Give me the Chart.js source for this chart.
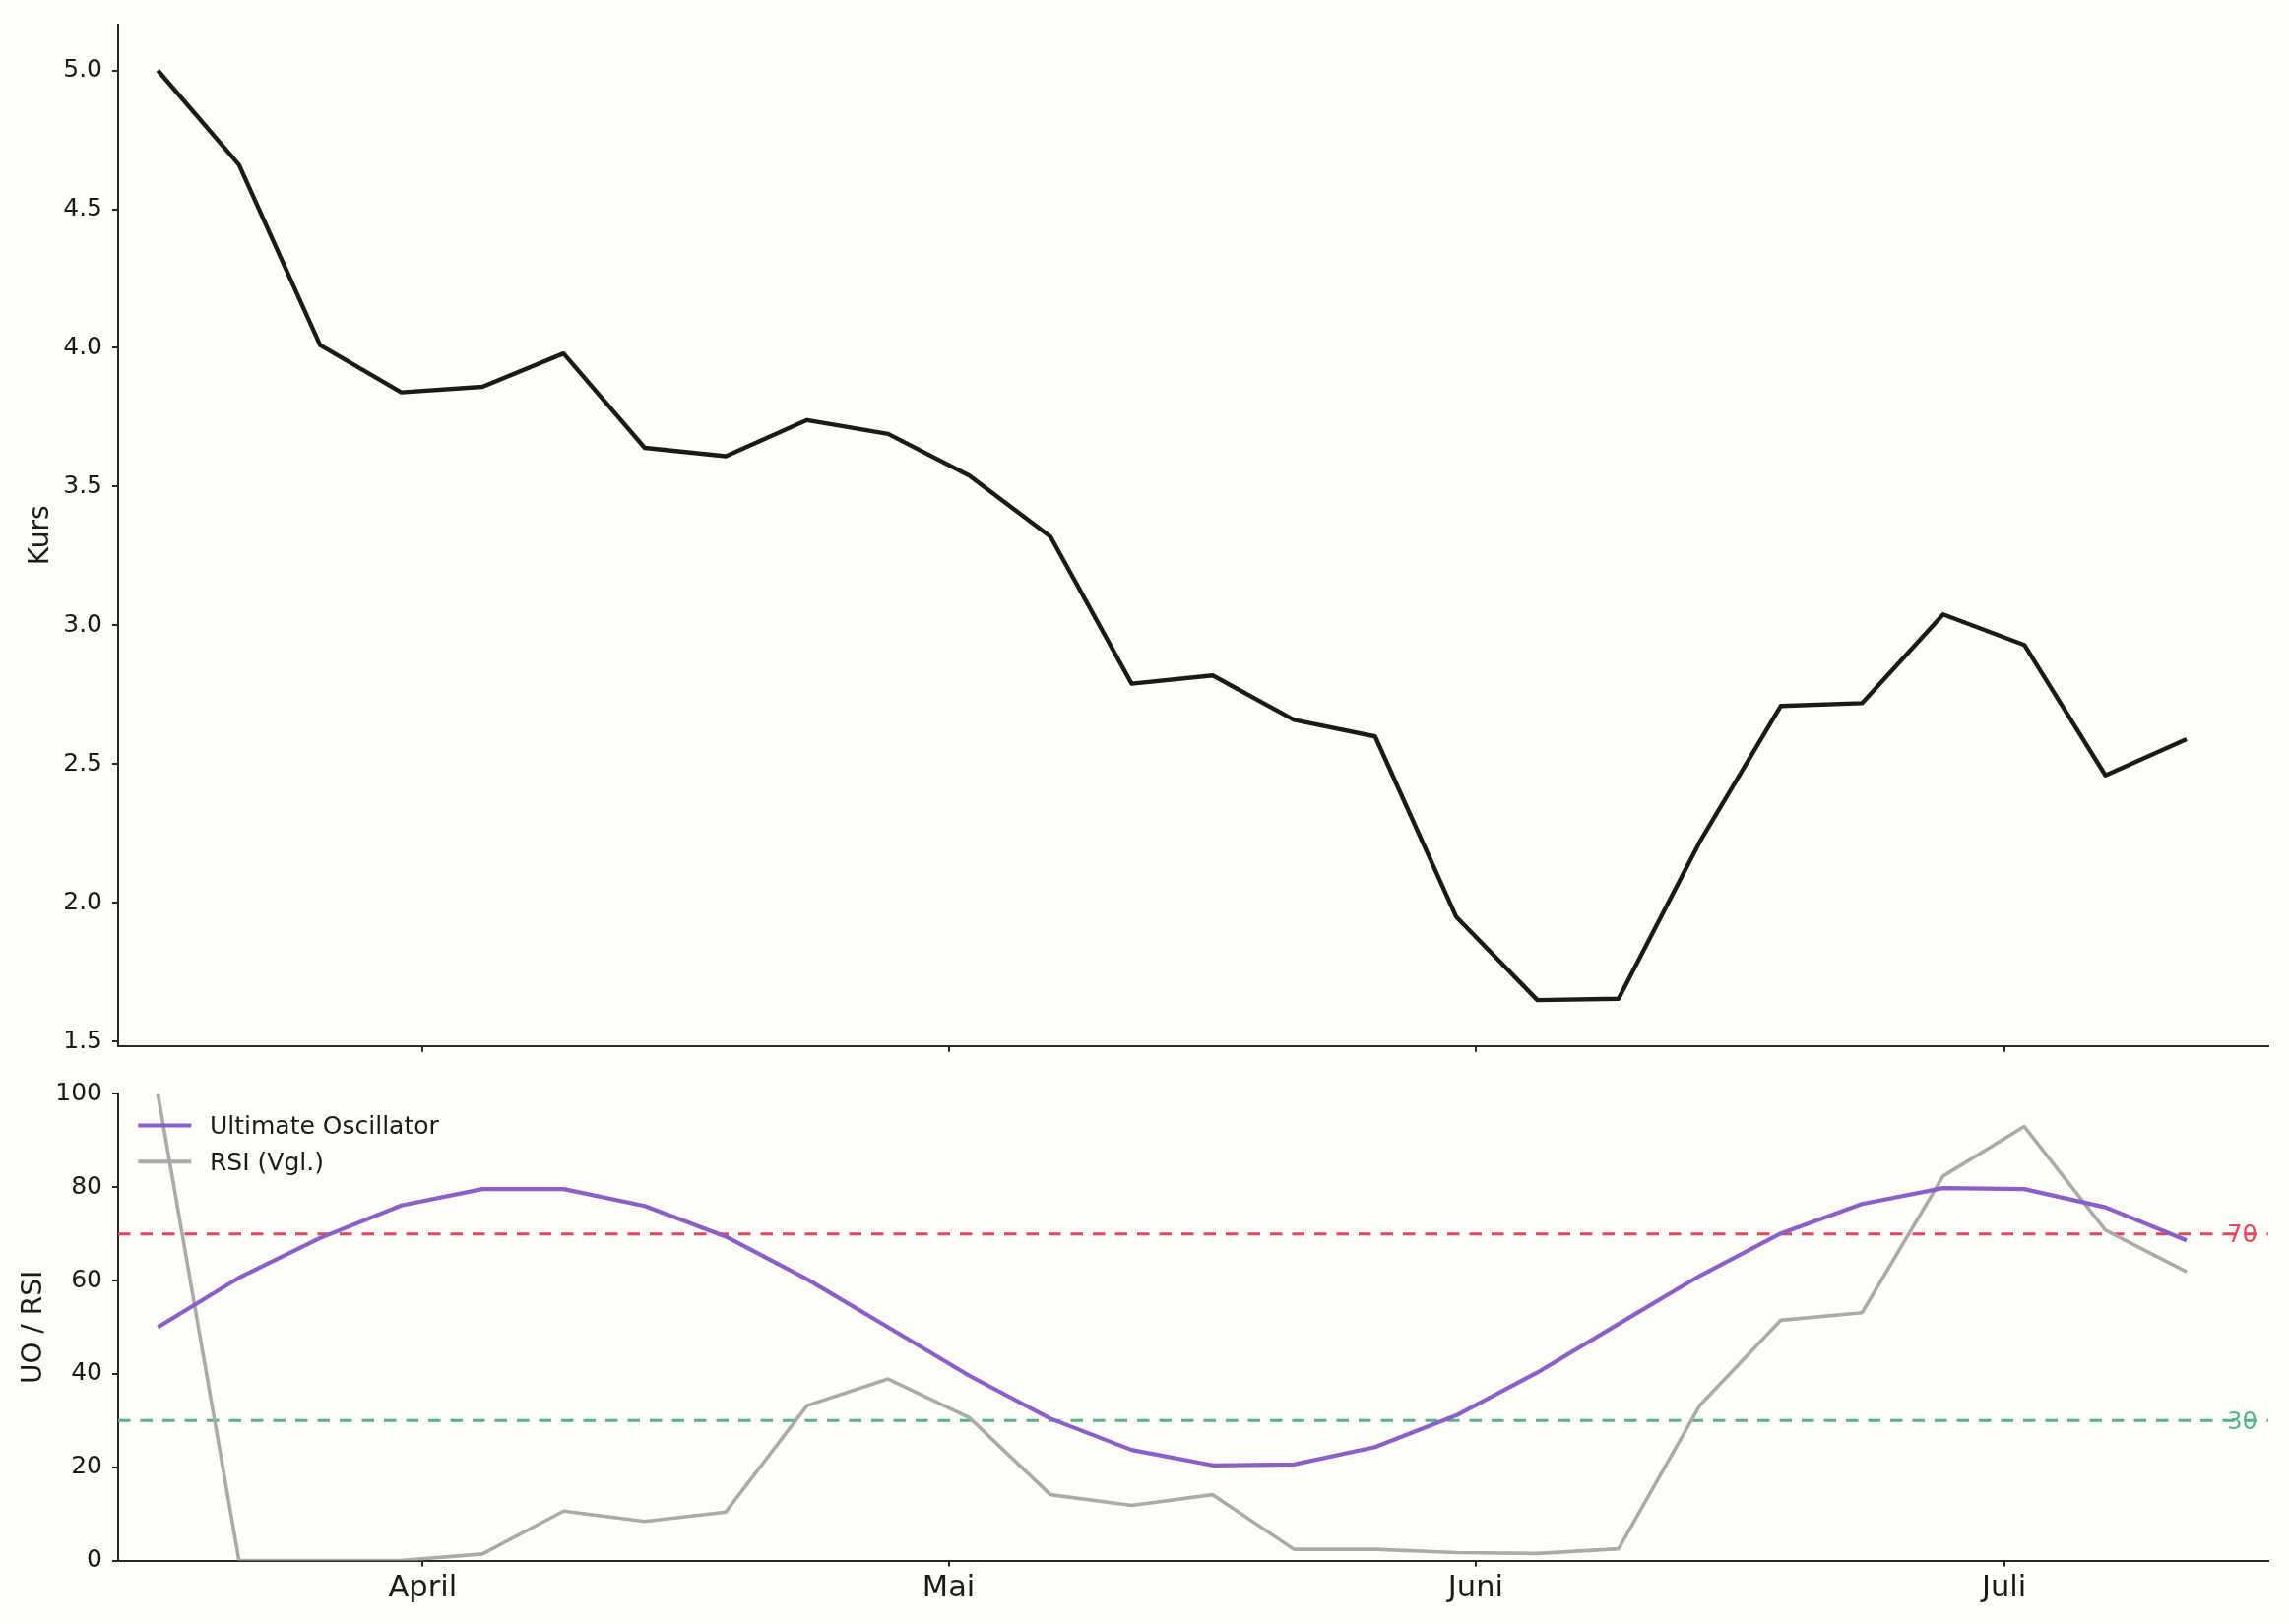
<!DOCTYPE html>
<html><head><meta charset="utf-8">
<script src="https://cdn.jsdelivr.net/npm/chart.js@4.4.1/dist/chart.umd.min.js"></script>
<style>
html,body{margin:0;padding:0;background:#fdfdfa;}
#wrap{position:relative;width:2325px;height:1650px;background:#fdfdfa;overflow:hidden;}
canvas{position:absolute;left:0;}
</style></head><body>
<div id="wrap">
<canvas id="botChart" width="2325" height="600" style="top:1050px;width:2325px;height:600px"></canvas>
<canvas id="topChart" width="2325" height="1100" style="top:0;width:2325px;height:1100px"></canvas>
</div>
<script>
// ---- data ----
const kurs = [5.00, 4.66, 4.01, 3.84, 3.86, 3.98, 3.64, 3.61, 3.74, 3.69, 3.54, 3.32, 2.79,
              2.82, 2.66, 2.60, 1.95, 1.65, 1.655, 2.22, 2.71, 2.72, 3.04, 2.93, 2.46, 2.59];
const uo   = [50.0, 60.6, 69.1, 76.1, 79.6, 79.6, 76.0, 69.4, 60.3, 50.0, 39.6, 30.4, 23.7,
              20.4, 20.6, 24.3, 31.1, 40.3, 50.7, 61.0, 70.1, 76.4, 79.8, 79.6, 75.7, 68.6];
const rsi  = [100, 0, 0, 0, 1.4, 10.6, 8.4, 10.4, 33.2, 38.9, 30.6, 14.1, 11.8,
              14.1, 2.4, 2.4, 1.7, 1.5, 2.5, 33.2, 51.5, 53.1, 82.4, 93.0, 70.8, 61.9];
const monthLabels = ['April', 'Mai', 'Juni', 'Juli'];
const monthTickValues = [3.263, 9.745, 16.24, 22.75];
const xRange = [-0.489, 26.007];
const kursTicks = [1.5, 2.0, 2.5, 3.0, 3.5, 4.0, 4.5, 5.0];
const kursRange = [1.4845, 5.165];
const oscTicks = [0, 20, 40, 60, 80, 100];
const oscRange = [0, 100];
const thresholds = [70, 30];
const thresholdLabels = ['70', '30'];
const thresholdLabelX = 25.5;

// ---- styles ----
const FONT = '"DejaVu Sans", sans-serif';
Chart.defaults.font.family = FONT;
const INK = '#1a1a1a';
const SPINE = '#262626';
const thresholdColors = ['#e2475c', '#55b38a'];

const toXY = arr => arr.map((v, i) => ({x: i, y: v}));

function xScale(withLabels, h) {
  return {
    type: 'linear', min: xRange[0], max: xRange[1],
    afterBuildTicks: s => { s.ticks = monthTickValues.map(v => ({value: v})); },
    ticks: {
      autoSkip: false, maxRotation: 0, minRotation: 0,
      callback: (v, i) => withLabels ? monthLabels[i] : '',
      font: {size: 30.5}, color: INK, padding: 4
    },
    grid: {drawOnChartArea: false, drawTicks: true, tickLength: 6, color: SPINE, lineWidth: 2},
    border: {display: true, color: SPINE, width: 2},
    afterFit: s => { s.height = h; }
  };
}
function yScale(range, tickVals, fmt, title, titlePad) {
  return {
    type: 'linear', min: range[0], max: range[1],
    afterBuildTicks: s => { s.ticks = tickVals.map(v => ({value: v})); },
    ticks: {autoSkip: false, callback: fmt, font: {size: 25}, color: INK, padding: 10},
    grid: {drawOnChartArea: false, drawTicks: true, tickLength: 6, color: SPINE, lineWidth: 2},
    border: {display: true, color: SPINE, width: 2},
    title: {display: true, text: title, font: {size: 28}, color: INK, padding: {top: titlePad, bottom: 0}},
    afterFit: s => { s.width = 120; }
  };
}

const thresholdPlugin = {
  id: 'thresholds',
  beforeDatasetsDraw(chart) {
    const {ctx, chartArea: a, scales: {x, y}} = chart;
    ctx.save();
    thresholds.forEach((t, i) => {
      const py = y.getPixelForValue(t);
      ctx.strokeStyle = thresholdColors[i];
      ctx.lineWidth = 3;
      ctx.setLineDash([12.5, 10]);
      ctx.beginPath(); ctx.moveTo(a.left, py); ctx.lineTo(a.right, py); ctx.stroke();
    });
    ctx.restore();
  },
  afterDatasetsDraw(chart) {
    const {ctx, scales: {x, y}} = chart;
    ctx.save();
    ctx.font = '24px ' + FONT;
    ctx.textAlign = 'left';
    ctx.textBaseline = 'alphabetic';
    thresholds.forEach((t, i) => {
      ctx.fillStyle = thresholdColors[i];
      ctx.fillText(thresholdLabels[i], x.getPixelForValue(thresholdLabelX), y.getPixelForValue(t) + 8.7);
    });
    ctx.restore();
  }
};

const legendPlugin = {
  id: 'innerLegend',
  afterDraw(chart) {
    const {ctx, chartArea: a} = chart;
    ctx.save();
    chart.data.datasets.forEach((ds, i) => {
      const y = a.top + 32.1 + i * 36.7;
      ctx.strokeStyle = ds.borderColor;
      ctx.lineWidth = 4;
      ctx.beginPath(); ctx.moveTo(a.left + 20.3, y); ctx.lineTo(a.left + 74.3, y); ctx.stroke();
      ctx.fillStyle = INK;
      ctx.font = '25px ' + FONT;
      ctx.textBaseline = 'alphabetic';
      ctx.textAlign = 'left';
      ctx.fillText(ds.label, a.left + 93, y + 8.8);
    });
    ctx.restore();
  }
};

// top chart: canvas 0..1100, chart area 22.3..1062.8
new Chart(document.getElementById('topChart'), {
  type: 'line',
  data: {datasets: [{label: 'Kurs', data: toXY(kurs), borderColor: INK, borderWidth: 4.4,
    pointRadius: 0, tension: 0, fill: false, borderJoinStyle: 'round', borderCapStyle: 'butt'}]},
  options: {
    responsive: false, animation: false, devicePixelRatio: 1,
    layout: {padding: {left: 0, right: 21, top: 22.3, bottom: 0}},
    plugins: {legend: {display: false}, tooltip: {enabled: false}},
    scales: {
      x: xScale(false, 1100 - 1062.8),
      y: yScale(kursRange, kursTicks, v => Number(v).toFixed(1), 'Kurs', 25)
    }
  }
});

// bottom chart: canvas 1050..1650
new Chart(document.getElementById('botChart'), {
  type: 'line',
  data: {datasets: [
    {label: 'Ultimate Oscillator', data: toXY(uo), borderColor: '#8b5fc7', borderWidth: 4.2,
     pointRadius: 0, tension: 0, fill: false, borderJoinStyle: 'round'},
    {label: 'RSI (Vgl.)', data: toXY(rsi), borderColor: '#aaaaaa', borderWidth: 3.6,
     pointRadius: 0, tension: 0, fill: false, borderJoinStyle: 'round'}
  ]},
  options: {
    responsive: false, animation: false, devicePixelRatio: 1,
    layout: {padding: {left: 0, right: 21, top: 61.4, bottom: 0}},
    plugins: {legend: {display: false}, tooltip: {enabled: false}},
    scales: {
      x: xScale(true, 64.5),
      y: yScale(oscRange, oscTicks, v => String(v), 'UO / RSI', 18)
    }
  },
  plugins: [thresholdPlugin, legendPlugin]
});
</script>
</body></html>
